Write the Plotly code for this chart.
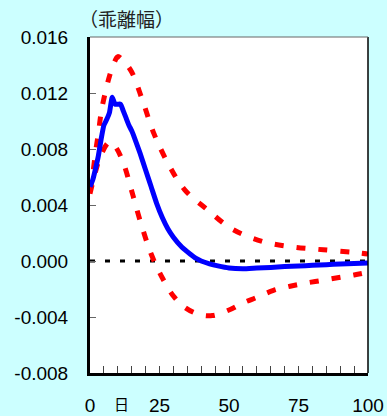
import plotly.graph_objects as go

# Central estimate (blue)
x_mid = [0, 1, 2, 3, 4, 5, 6, 7, 8, 9, 10, 11, 12, 13, 14, 15, 16, 18, 20, 22, 24, 26, 28, 30, 33, 36, 38, 40,
         43, 46, 50, 55, 60, 65, 70, 75, 80, 85, 90, 95, 100]
y_mid = [0.0053, 0.0058, 0.0066, 0.0075, 0.0087, 0.0097, 0.0101, 0.0106, 0.0117, 0.0112, 0.0112, 0.0112,
         0.0107, 0.0102, 0.0097, 0.0093, 0.0088, 0.0077, 0.0065, 0.0053, 0.0041, 0.0031, 0.0023, 0.0017,
         0.0010, 0.0005, 0.0002, 0.0000, -0.0002, -0.00035, -0.0005, -0.00055, -0.0005, -0.00046,
         -0.0004, -0.00036, -0.00031, -0.00026, -0.00021, -0.00017, -0.00014]

# Upper band (red dashed)
x_up = [0, 1, 2, 3, 4, 5, 7, 9, 10, 12, 15, 19, 23, 28, 34, 42, 51, 62, 73, 84, 96, 100]
y_up = [0.0050, 0.0062, 0.0078, 0.0091, 0.0106, 0.0116, 0.0132, 0.0143, 0.0146, 0.0143, 0.0135,
        0.0114, 0.0091, 0.0070, 0.0051, 0.0037, 0.0023, 0.0014, 0.0010, 0.0008, 0.0006, 0.0005]

# Lower band (red dashed)
x_lo = [0, 2, 4, 7, 9, 12, 15, 18, 22, 26, 30, 34, 39, 44, 50, 55, 60, 66, 72, 77, 83, 89, 95, 100]
y_lo = [0.0048, 0.0064, 0.0076, 0.0085, 0.0082, 0.0070, 0.0050, 0.0029, 0.0005, -0.0012, -0.0025,
        -0.0033, -0.0038, -0.0039, -0.0035, -0.0030, -0.0026, -0.0021, -0.0018, -0.0016, -0.0014,
        -0.0012, -0.0010, -0.0008]

x_zero = [0, 100]
y_zero = [0, 0]

y_ticks = [-0.008, -0.004, 0.000, 0.004, 0.008, 0.012, 0.016]
y_ticktext = ["-0.008", "-0.004", "0.000", "0.004", "0.008", "0.012", "0.016"]
x_ticks = [0, 25, 50, 75, 100]

fig = go.Figure()
fig.add_trace(go.Scatter(x=x_zero, y=y_zero, mode="lines",
                         line=dict(color="black", width=3, dash="5px,10px"), hoverinfo="skip"))
fig.add_trace(go.Scatter(x=x_up, y=y_up, mode="lines", line_shape="spline",
                         line=dict(color="#FF0000", width=5, dash="9px,13px")))
fig.add_trace(go.Scatter(x=x_lo, y=y_lo, mode="lines", line_shape="spline",
                         line=dict(color="#FF0000", width=5, dash="9px,13px")))
fig.add_trace(go.Scatter(x=x_mid, y=y_mid, mode="lines", line_shape="spline",
                         line=dict(color="#0000FF", width=5, smoothing=0.5)))

fig.update_layout(
    width=387, height=416,
    margin=dict(l=90, r=19, t=37, b=43),
    paper_bgcolor="#CCFFFF", plot_bgcolor="white",
    showlegend=False,
    font=dict(family="Arial, Liberation Sans, sans-serif", size=19, color="black"),
    xaxis=dict(range=[0, 100], tickvals=x_ticks, ticks="inside", ticklen=7, tickwidth=1,
               tickcolor="#444", showgrid=False, zeroline=False, automargin=False,
               showline=True, linecolor="black", linewidth=3, ticklabelstandoff=13,
               minor=dict(dtick=5, tick0=0, ticks="inside", ticklen=7, tickcolor="#444", showgrid=False)),
    yaxis=dict(range=[-0.008, 0.016], tickvals=y_ticks, ticktext=y_ticktext, ticks="inside",
               ticklen=6, tickwidth=1, tickcolor="#666", showgrid=False, zeroline=False,
               automargin=False,
               showline=True, linecolor="black", linewidth=3, ticklabelstandoff=15),
    annotations=[
        dict(text="（乖離幅）", xref="paper", yref="paper", x=-0.045, y=1.0, yshift=19,
             xanchor="left", yanchor="middle", showarrow=False,
             font=dict(family="Noto Sans CJK JP", size=19, color="#222")),
        dict(text="日", xref="x", yref="paper", x=11.5, y=0, yshift=-42,
             xanchor="center", yanchor="bottom", showarrow=False, borderpad=0,
             font=dict(family="Noto Sans CJK JP", size=15, color="black")),
    ],
    shapes=[
        dict(type="line", xref="x domain", yref="y domain", x0=1, x1=1, y0=0, y1=1,
             line=dict(color="black", width=1.5)),
        dict(type="line", xref="x domain", yref="y domain", x0=0, x1=1, y0=1, y1=1,
             line=dict(color="#666", width=1)),
    ],
)

fig.write_html("out.html")
